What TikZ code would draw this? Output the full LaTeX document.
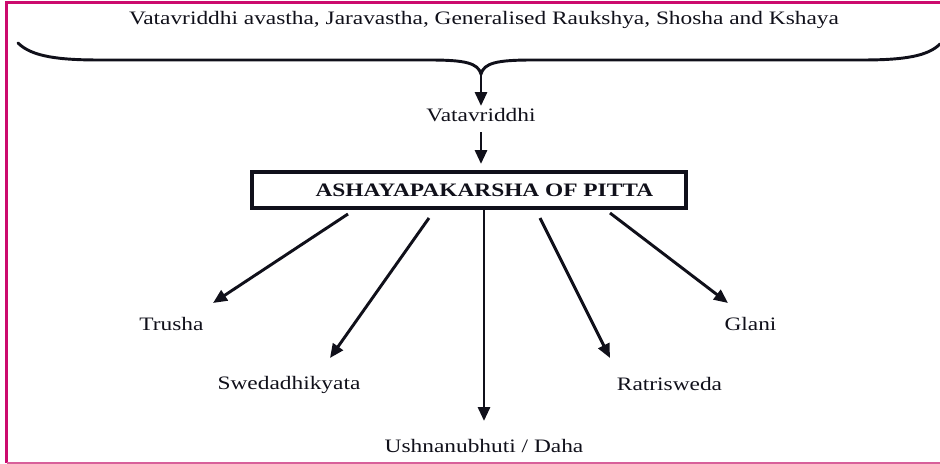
\documentclass[tikz,border=0pt]{standalone}
\usepackage{fontspec}
\setmainfont{Liberation Serif}[FakeStretch=1.23]
\usetikzlibrary{arrows.meta,calc}
\definecolor{frameA}{HTML}{CC0A6E}
\definecolor{frameB}{HTML}{D8609A}
\definecolor{ink}{HTML}{10101A}
\begin{document}
\begin{tikzpicture}[x=0.75pt,y=-0.75pt,
  lbl/.style={inner sep=0pt, anchor=base, text=ink, font=\fontsize{14.25}{17}\selectfont},
  arr/.style={line width=2.2pt, draw=ink, -{Triangle[length=10.5pt,width=9pt]}},
  bracepath/.style={line width=2.2pt, draw=ink, line cap=round},
  titlebox/.style={draw=ink, line width=3pt, minimum width=325.5pt, minimum height=27pt, inner sep=0pt, text=ink, font=\bfseries\fontsize{14.25}{17}\selectfont}]
\useasboundingbox (0,0) rectangle (940,464);
% frame
\draw[frameA, line width=1.6pt] (940,2.5) -- (6.5,2.5) -- (6.5,463);
\draw[frameB, line width=1.2pt] (6.5,463) -- (940,463);
% top text
\node[lbl] (top) at (484,24.3) {Vatavriddhi avastha, Jaravastha, Generalised Raukshya, Shosha and Kshaya};
% brace
\coordinate (btip) at (481,74);
\draw[bracepath] (18,43) .. controls (32,57) and (60,60) .. (100,60) -- (430,60)
  .. controls (465,60) and (478,63) .. (btip)
  .. controls (484,63) and (497,60) .. (532,60) -- (862,60)
  .. controls (905,60) and (928,56) .. (940,44);
% Vatavriddhi
\coordinate (vtip) at (481,106);
\draw[arr] (btip) -- (vtip);
\node[lbl] (vat) at (481,121) {Vatavriddhi};
% box
\node[titlebox] (box) at (469,190) {\hspace*{23pt}ASHAYAPAKARSHA OF PITTA};
\draw[arr, shorten <=8pt, shorten >=4.5pt] (vat.south) -- (vat.south |- box.north);
% labels
\node[lbl] (trusha) at (171.5,330.7) {Trusha};
\node[lbl] (swed) at (289,389) {Swedadhikyata};
\node[lbl] (ushn) at (484,452) {Ushnanubhuti / Daha};
\node[lbl] (ratri) at (669.5,390) {Ratrisweda};
\node[lbl] (glani) at (750.5,330) {Glani};
% arrow ends
\coordinate (s1) at (348,214); \coordinate (t1) at (213,303);
\coordinate (s2) at (429,218); \coordinate (t2) at (330,358);
\coordinate (s3) at (484,209); \coordinate (t3) at (484,421);
\coordinate (s4) at (540,218); \coordinate (t4) at (610,358);
\coordinate (s5) at (610,213); \coordinate (t5) at (728,303);
\draw[arr] (s1) -- (t1);
\draw[arr] (s2) -- (t2);
\draw[arr] (s3) -- (t3);
\draw[arr] (s4) -- (t4);
\draw[arr] (s5) -- (t5);
\end{tikzpicture}
\end{document}
